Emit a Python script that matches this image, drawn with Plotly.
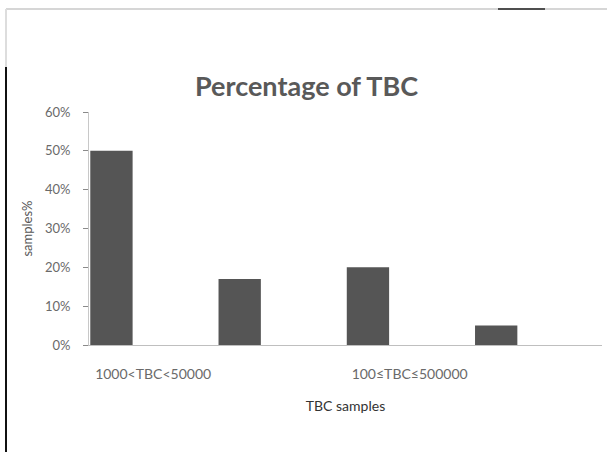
import plotly.graph_objects as go

# Data
slot_index = [0, 1, 2, 3]
values = [0.50, 0.17, 0.20, 0.05]
tick_positions = [0, 2]
tick_labels = ["1000<TBC<50000", "100≤TBC≤500000"]
title_text = "Percentage of TBC"
x_title = "TBC samples"
y_title = "samples%"

FONT = "Lato, 'Open Sans', sans-serif"

fig = go.Figure(
    go.Bar(
        x=slot_index,
        y=values,
        width=0.33,
        offset=-0.49,
        marker=dict(color="#555555", line=dict(width=0)),
        showlegend=False,
        hoverinfo="skip",
    )
)

fig.update_layout(
    width=607,
    height=458,
    margin=dict(l=89, r=5, t=112, b=113),
    paper_bgcolor="white",
    plot_bgcolor="white",
    title=dict(
        text=title_text,
        x=0.505,
        xanchor="center",
        y=0.81,
        yanchor="middle",
        font=dict(family=FONT, size=27, color="#595959", weight="bold"),
    ),
    xaxis=dict(
        range=[-0.5, 3.5],
        tickvals=tick_positions,
        ticktext=tick_labels,
        showgrid=False,
        zeroline=False,
        showline=True,
        linecolor="#bfbfbf",
        linewidth=1,
        ticks="outside",
        ticklen=16,
        tickcolor="rgba(0,0,0,0)",
        tickfont=dict(family=FONT, size=14, color="#6a6a6a"),
        title=dict(text=x_title, font=dict(family=FONT, size=14, color="#333333"), standoff=20),
    ),
    yaxis=dict(
        range=[0, 0.6],
        dtick=0.1,
        tickformat=".0%",
        showgrid=False,
        zeroline=False,
        showline=True,
        linecolor="#c8c8c8",
        linewidth=1,
        ticks="outside",
        ticklen=5,
        tickcolor="#8a8a8a",
        ticklabelstandoff=10,
        tickfont=dict(family=FONT, size=13, color="#6a6a6a"),
        title=dict(text=y_title, font=dict(family=FONT, size=13, color="#555555"), standoff=9),
    ),
    shapes=[
        # scanned frame edges
        dict(type="line", xref="paper", yref="paper", x0=-83/513, x1=518/513, y0=(458-113-9)/233, y1=(458-113-9)/233,
             line=dict(color="#d6d6d6", width=2)),
        dict(type="line", xref="paper", yref="paper", x0=409/513, x1=456/513, y0=(458-113-9)/233, y1=(458-113-9)/233,
             line=dict(color="#222222", width=1.5)),
        dict(type="line", xref="paper", yref="paper", x0=-83/513, x1=-83/513, y0=(345-67)/233, y1=(345-452)/233,
             line=dict(color="#111111", width=2)),
        dict(type="line", xref="paper", yref="paper", x0=-83/513, x1=-83/513, y0=(345-9)/233, y1=(345-67)/233,
             line=dict(color="#dddddd", width=2)),
    ],
)

fig.write_html("out.html", config={"displayModeBar": False},
               post_script="document.body.style.margin='0';")
